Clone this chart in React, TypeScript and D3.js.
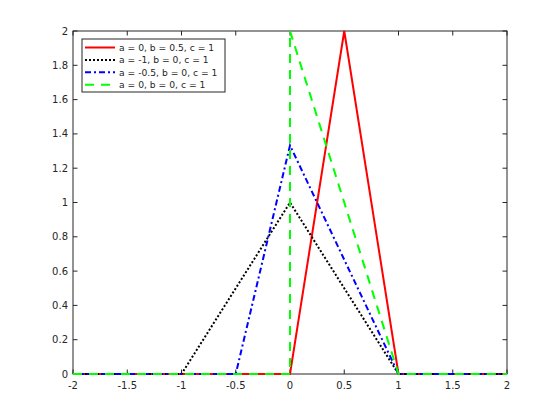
import React from "react";
import * as d3 from "d3";

const xTicks = [-2, -1.5, -1, -0.5, 0, 0.5, 1, 1.5, 2];
const yTicks = [0, 0.2, 0.4, 0.6, 0.8, 1, 1.2, 1.4, 1.6, 1.8, 2];

const seriesNames = [
  "a = 0, b = 0.5, c = 1",
  "a = -1, b = 0, c = 1",
  "a = -0.5, b = 0, c = 1",
  "a = 0, b = 0, c = 1",
];
const redX = [-2, 0, 0.5, 1, 2];
const redY = [0, 0, 2, 0, 0];
const blackX = [-2, -1, 0, 1, 2];
const blackY = [0, 0, 1, 0, 0];
const blueX = [-2, -0.5, 0, 1, 2];
const blueY = [0, 0, 1.333, 0, 0];
const greenX = [-2, 0, 0, 1, 2];
const greenY = [0, 0, 2, 0, 0];

const colors = ["#ff0000", "#000000", "#0000ff", "#00ff00"];
const dashes = ["none", "2,2", "6,3,2,3", "9,7"];

export default function App() {
  const W = 560, H = 420;
  const x = d3.scaleLinear().domain([-2, 2]).range([73, 507]);
  const y = d3.scaleLinear().domain([0, 2]).range([374, 31]);
  const line = d3
    .line<[number, number]>()
    .x((d) => x(d[0]))
    .y((d) => y(d[1]));
  const series = [
    [redX, redY],
    [blackX, blackY],
    [blueX, blueY],
    [greenX, greenY],
  ].map(([xs, ys]) => xs.map((v, i) => [v, ys[i]] as [number, number]));
  const axisColor = "#262626";
  const tl = 4.5;
  const font = "DejaVu Sans, sans-serif";
  const legX = 82, legY = 39, legW = 143, legH = 53;
  return (
    <svg width={W} height={H} style={{ position: "absolute", left: 0, top: 0, background: "#fff" }}>
      <rect x={0} y={0} width={W} height={H} fill="#fff" />
      <defs>
        <clipPath id="clip">
          <rect x={70} y={28} width={440} height={350} />
        </clipPath>
      </defs>
      <rect x={x(-2)} y={y(2)} width={x(2) - x(-2)} height={y(0) - y(2)} fill="none" stroke={axisColor} strokeWidth={1} />
      {xTicks.map((t) => (
        <g key={"x" + t}>
          <line x1={x(t)} x2={x(t)} y1={y(0)} y2={y(0) - tl} stroke={axisColor} />
          <line x1={x(t)} x2={x(t)} y1={y(2)} y2={y(2) + tl} stroke={axisColor} />
          <text x={x(t)} y={y(0) + 15} textAnchor="middle" fontSize={10} fontFamily={font} fill={axisColor}>
            {t}
          </text>
        </g>
      ))}
      {yTicks.map((t) => (
        <g key={"y" + t}>
          <line x1={x(-2)} x2={x(-2) + tl} y1={y(t)} y2={y(t)} stroke={axisColor} />
          <line x1={x(2)} x2={x(2) - tl} y1={y(t)} y2={y(t)} stroke={axisColor} />
          <text x={x(-2) - 5} y={y(t) + 3.5} textAnchor="end" fontSize={10} fontFamily={font} fill={axisColor}>
            {t}
          </text>
        </g>
      ))}
      <g clipPath="url(#clip)">
        {series.map((s, i) => (
          <path
            key={i}
            d={line(s) || ""}
            fill="none"
            stroke={colors[i]}
            strokeWidth={2}
            strokeDasharray={dashes[i]}
          />
        ))}
      </g>
      <rect x={legX} y={legY} width={legW} height={legH} fill="#fff" stroke={axisColor} strokeWidth={1} />
      {seriesNames.map((n, i) => {
        const cy = legY + 8.5 + i * 12.4;
        return (
          <g key={n}>
            <line x1={85} x2={115} y1={cy} y2={cy} stroke={colors[i]} strokeWidth={2} strokeDasharray={dashes[i]} />
            <text x={119} y={cy + 3.5} fontSize={9.2} fontFamily={font} fill={axisColor}>
              {n}
            </text>
          </g>
        );
      })}
    </svg>
  );
}
